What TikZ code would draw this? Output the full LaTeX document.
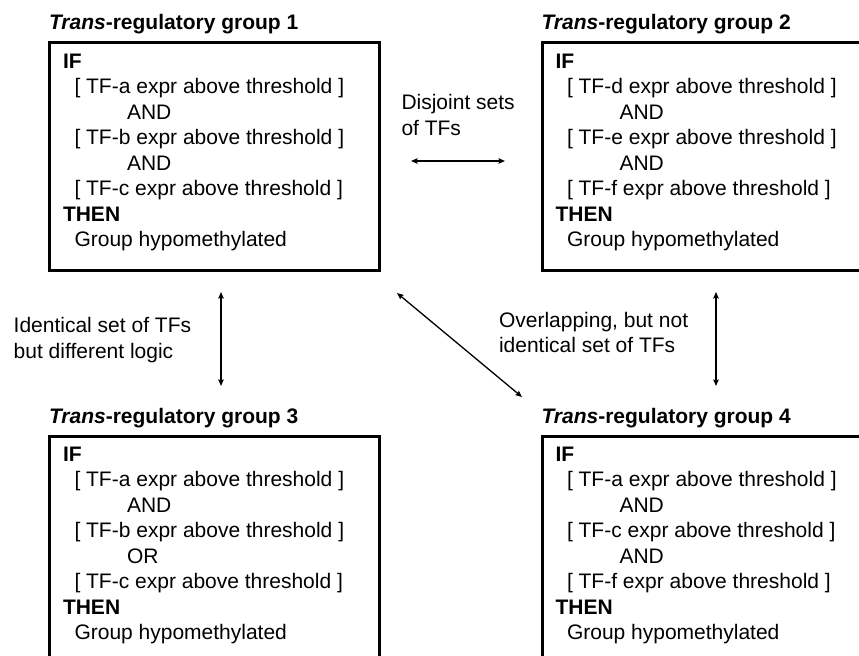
\documentclass[tikz,border=0pt]{standalone}
\usepackage{fontspec}
\setmainfont{Liberation Sans}
\usetikzlibrary{arrows.meta}
\newcommand\rulelines[5]{\vtop{%
  \hbox{\textbf{IF}}%
  \hbox{\hspace*{11.5bp}[ TF-#1 expr above threshold ]}%
  \hbox{\hspace*{64bp}#2}%
  \hbox{\hspace*{11.5bp}[ TF-#3 expr above threshold ]}%
  \hbox{\hspace*{64bp}#4}%
  \hbox{\hspace*{11.5bp}[ TF-#5 expr above threshold ]}%
  \hbox{\textbf{THEN}}%
  \hbox{\hspace*{11.5bp}Group hypomethylated}}}
\newcommand\twolines[2]{\vtop{\hbox{#1}\hbox{#2}}}
\begin{document}
\begin{tikzpicture}[x=1bp,y=-1bp,
  every node/.style={inner sep=0pt,outer sep=0pt,font=\fontsize{21bp}{25.5bp}\selectfont},
  grpbox/.style={draw,line width=3bp,minimum width=330bp,minimum height=227bp,anchor=north west},
  txt/.style={anchor=base west},
  ttl/.style={anchor=base west,font=\fontsize{21bp}{25.5bp}\selectfont\bfseries},
  link/.style={line width=1.3bp,{Stealth[length=6.5bp,width=5.5bp,inset=1bp]}-{Stealth[length=6.5bp,width=5.5bp,inset=1bp]}}]
\clip (0,0) rectangle (859,656);
% boxes
\node[grpbox] (g1) at (49.5,43) {};
\node[grpbox] (g2) at (542,43) {};
\node[grpbox] (g3) at (49.5,436) {};
\node[grpbox] (g4) at (542,436) {};
% titles
\node[ttl] (t1) at (49,30) {\textit{Trans}-regulatory group 1};
\node[ttl] (t2) at (541.5,30) {\textit{Trans}-regulatory group 2};
\node[ttl] (t3) at (49,423) {\textit{Trans}-regulatory group 3};
\node[ttl] (t4) at (541.5,423) {\textit{Trans}-regulatory group 4};
% box contents
\node[txt] (c1) at (63,68.3) {\rulelines{a}{AND}{b}{AND}{c}};
\node[txt] (c2) at (555.5,68.3) {\rulelines{d}{AND}{e}{AND}{f}};
\node[txt] (c3) at (63,461.3) {\rulelines{a}{AND}{b}{OR}{c}};
\node[txt] (c4) at (555.5,461.3) {\rulelines{a}{AND}{c}{AND}{f}};
% relation labels
\node[txt] (l12) at (401.5,110) {\twolines{Disjoint sets}{of TFs}};
\node[txt] (l13) at (13.7,332.5) {\twolines{Identical set of TFs}{but different logic}};
\node[txt] (l14) at (499,327) {\twolines{Overlapping, but not}{identical set of TFs}};
% arrow end points
\coordinate (a12s) at (411,161);
\coordinate (a12e) at (505,161);
\coordinate (a13s) at (221,292);
\coordinate (a13e) at (221,386);
\coordinate (a24s) at (716,292);
\coordinate (a24e) at (716,386);
\coordinate (a14s) at (397,293);
\coordinate (a14e) at (522,397);
\draw[link] (a12s) -- (a12e);
\draw[link] (a13s) -- (a13e);
\draw[link] (a24s) -- (a24e);
\draw[link] (a14s) -- (a14e);
\end{tikzpicture}
\end{document}
